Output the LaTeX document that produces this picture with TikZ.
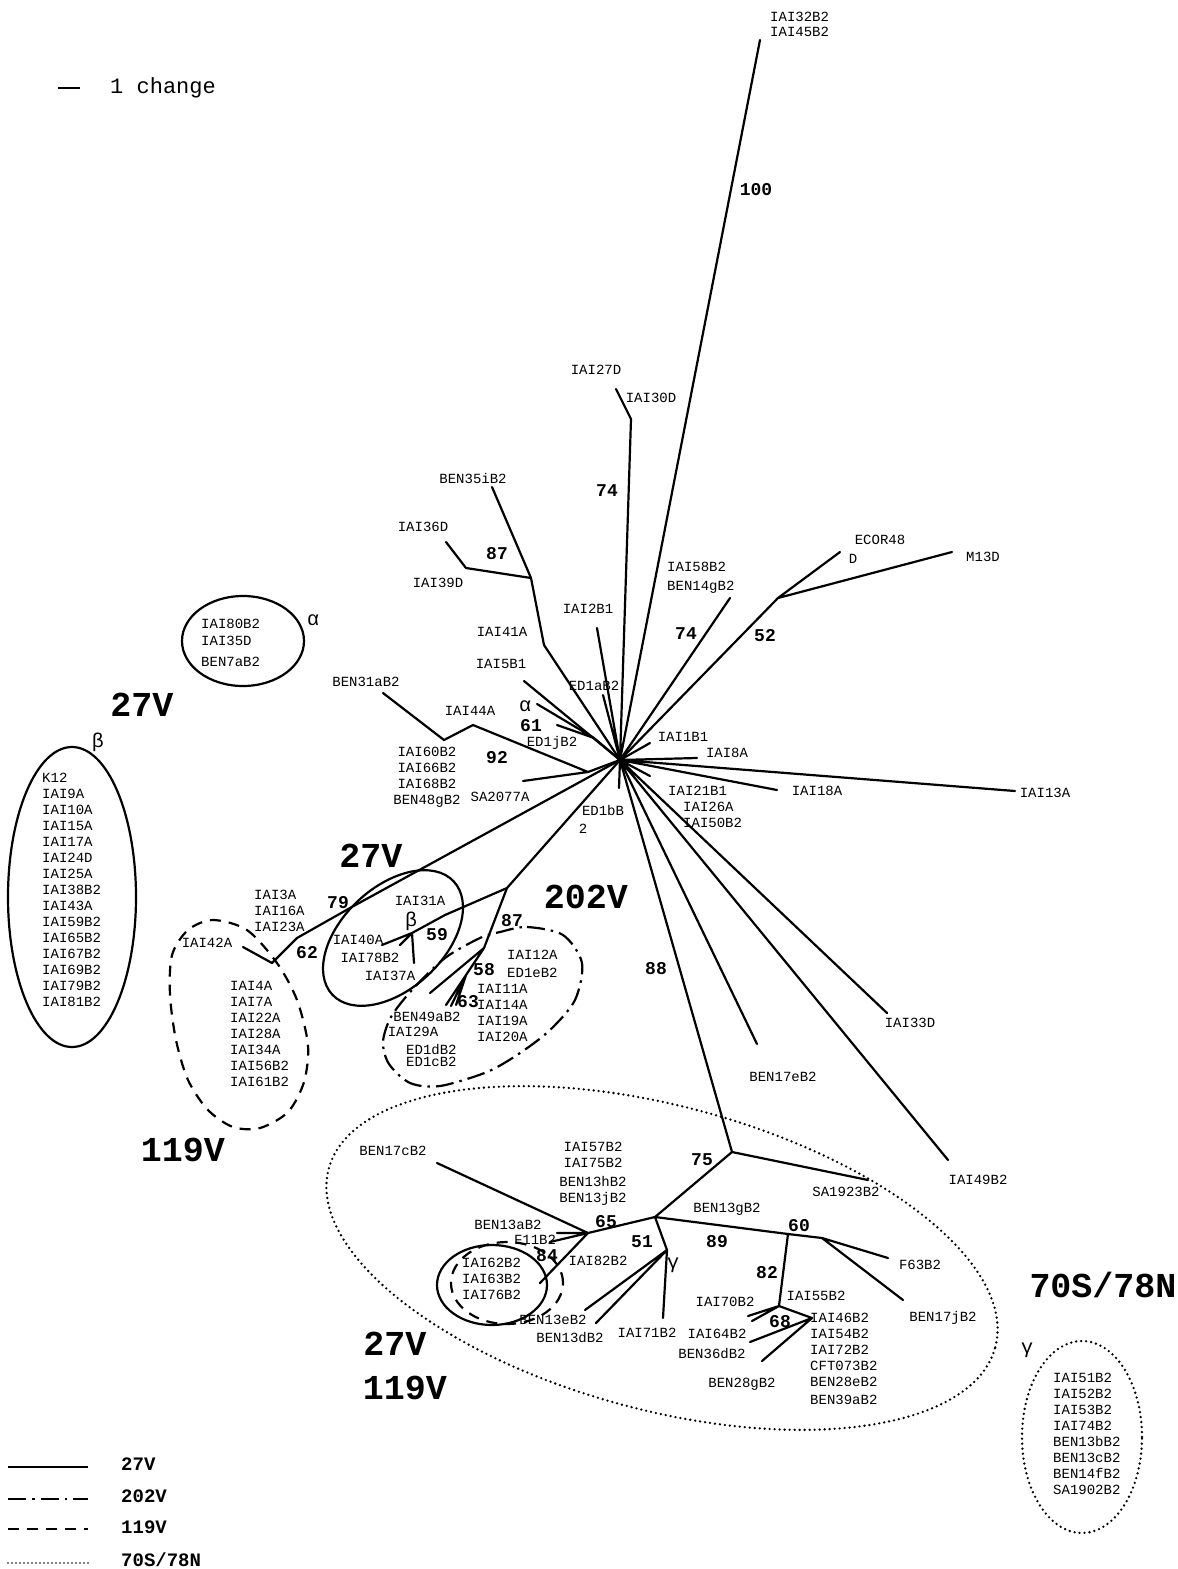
\documentclass[tikz,border=0pt]{standalone}
\usepackage{fontspec}
\setmonofont{Liberation Mono}
\usetikzlibrary{positioning}

\newcommand\leaffont{\ttfamily\fontsize{14}{16}\selectfont}
\newcommand\bootfont{\ttfamily\bfseries\fontsize{18}{20}\selectfont}
\newcommand\cladefont{\ttfamily\bfseries\fontsize{35}{40}\selectfont}
\newcommand\legfont{\ttfamily\bfseries\fontsize{19}{20}\selectfont}
\newcommand\greekfont{\ttfamily\fontsize{20}{20}\selectfont}

\tikzset{
  twig/.style={line width=2.2pt, line cap=round, line join=round},
  leaf/.style={font=\leaffont, inner sep=0pt},
  boot/.style={font=\bootfont, inner sep=0pt},
  clade/.style={font=\cladefont, inner sep=0pt},
  legtxt/.style={font=\legfont, inner sep=0pt, anchor=west},
  greek/.style={font=\greekfont, inner sep=0pt},
  v27/.style={line width=2.2pt},
  v202/.style={line width=2.2pt, dash pattern=on 18pt off 6pt on 2.5pt off 6pt},
  v119/.style={line width=2.2pt, dash pattern=on 11pt off 8pt},
  v70/.style={line width=2.6pt, line cap=round, dash pattern=on 0pt off 5pt},
}

\begin{document}
\begin{tikzpicture}[x=1pt,y=-1pt]
\path[fill=white,use as bounding box] (0,0) rectangle (1178,1569);

% scale
\coordinate (sc1) at (58,88);
\coordinate (sc2) at (80,88);
\draw[line width=1.6pt] (sc1) -- (sc2);
\node[font=\ttfamily\fontsize{22}{24}\selectfont, inner sep=0pt, anchor=west] (scale) at (110,88) {1 change};

% tree
\coordinate (hub) at (620,760);
\coordinate (t32) at (760,40);
\coordinate (k30) at (631,419);
\coordinate (t27) at (616,389);
\coordinate (k41) at (544,645);
\coordinate (n87u) at (531,578);
\coordinate (t35i) at (492,487);
\coordinate (k36) at (466,568);
\coordinate (t36) at (446,542);
\coordinate (t2b) at (597,628);
\coordinate (t1a) at (603,695);
\coordinate (t5b) at (524,681);
\coordinate (n61) at (594,738);
\coordinate (tal) at (537,704);
\coordinate (t61) at (557,725);
\coordinate (t31a) at (383,693);
\coordinate (k31a) at (444,740);
\coordinate (k44) at (473,725);
\coordinate (n92) at (588,772);
\coordinate (tsa) at (523,781);
\coordinate (t1b) at (619,788);
\coordinate (t1b1) at (650,743);
\coordinate (t8a) at (697,758);
\coordinate (t18a) at (777,790);
\coordinate (t13a) at (1015,791);
\coordinate (t21b) at (650,776);
\coordinate (t58) at (730,598);
\coordinate (n52) at (778,598);
\coordinate (tec) at (840,552);
\coordinate (tm13) at (952,552);
\coordinate (t33d) at (887,1013);
\coordinate (t49) at (948,1160);
\coordinate (t17e) at (757,1044);

\coordinate (n79) at (350,908);
\coordinate (k62) at (297,938);
\coordinate (n62) at (272,963);
\coordinate (t42) at (243,947);
\coordinate (n87l) at (507,888);
\coordinate (k59) at (445,915);
\coordinate (nbe) at (412,933);
\coordinate (t40) at (382,945);
\coordinate (t78) at (400,945);
\coordinate (t37) at (414,963);
\coordinate (n58) at (484,948);
\coordinate (t49a) at (430,993);
\coordinate (n63) at (466,975);
\coordinate (t63a) at (446,1005);
\coordinate (t63b) at (451,1006);
\coordinate (t63c) at (456,1005);

\coordinate (n75) at (732,1152);
\coordinate (tsa19) at (868,1180);
\coordinate (nj) at (655,1217);
\coordinate (n65) at (588,1233);
\coordinate (ngam) at (667,1250);
\coordinate (n82) at (788,1234);
\coordinate (n60) at (822,1238);
\coordinate (tf63) at (888,1258);
\coordinate (t17j) at (903,1300);
\coordinate (n68) at (779,1306);
\coordinate (t70a) at (748,1316);
\coordinate (t70b) at (752,1321);
\coordinate (n46) at (812,1318);
\coordinate (t64) at (750,1342);
\coordinate (t28g) at (762,1361);
\coordinate (t17c) at (437,1163);
\coordinate (t13ab) at (557,1233);
\coordinate (tf11) at (550,1242);
\coordinate (t82) at (540,1283);
\coordinate (t71) at (663,1318);
\coordinate (t13e) at (585,1310);
\coordinate (t13d) at (596,1323);

\draw[twig] (hub) -- (t32) (hub) -- (k30) -- (t27);
\draw[twig] (hub) -- (k41) -- (n87u) -- (t35i) (n87u) -- (k36) -- (t36);
\draw[twig] (hub) -- (t2b) (hub) -- (t1a) (hub) -- (t5b) (hub) -- (t1b)
  (hub) -- (t1b1) (hub) -- (t8a) (hub) -- (t18a) (hub) -- (t13a) (hub) -- (t21b)
  (hub) -- (t58) (hub) -- (t33d) (hub) -- (t49) (hub) -- (t17e);
\draw[twig] (hub) -- (n61) -- (tal) (n61) -- (t61);
\draw[twig] (hub) -- (n92) -- (k44) -- (k31a) -- (t31a) (n92) -- (tsa);
\draw[twig] (hub) -- (n52) -- (tec) (n52) -- (tm13);
\draw[twig] (hub) -- (n79) -- (k62) -- (n62) -- (t42);
\draw[twig] (hub) -- (n87l) -- (k59) -- (nbe) -- (t40) (nbe) -- (t78) (nbe) -- (t37);
\draw[twig] (n87l) -- (n58) -- (t49a) (n58) -- (n63) -- (t63a) (n63) -- (t63b) (n63) -- (t63c);
\draw[twig] (hub) -- (n75) -- (tsa19) (n75) -- (nj) -- (n65) (nj) -- (ngam) (nj) -- (n82) -- (n60);
\draw[twig] (n60) -- (tf63) (n60) -- (t17j);
\draw[twig] (n82) -- (n68) -- (t70a) (n68) -- (t70b) (n68) -- (n46) -- (t64) (n46) -- (t28g);
\draw[twig] (n65) -- (t17c) (n65) -- (t13ab) (n65) -- (tf11) (n65) -- (t82);
\draw[twig] (ngam) -- (t71) (ngam) -- (t13e) (ngam) -- (t13d);
\fill (hub) circle [radius=3pt];

% clade outlines
\draw[v27] (243,641) ellipse [x radius=61pt, y radius=45pt];
\draw[v27] (72,897) ellipse [x radius=64pt, y radius=150pt];
\draw[v27, rotate around={43:(393,938)}] (393,938) ellipse [x radius=83pt, y radius=51pt];
\draw[v27] (492,1285) ellipse [x radius=55pt, y radius=40pt];
\draw[v119] (507,1283) ellipse [x radius=56pt, y radius=41pt];
\draw[v119] plot[smooth cycle] coordinates {(213,920) (247,930) (277,963) (297,1000) (308,1045)
  (304,1082) (288,1112) (260,1128) (233,1127) (208,1110) (188,1080) (176,1040) (170,995) (172,955) (188,930)};
\draw[v202] plot[smooth cycle] coordinates {(500,932) (527,927) (563,935) (582,963) (575,1000)
  (550,1030) (520,1053) (487,1072) (440,1086) (410,1083) (389,1064) (383,1042) (391,1017) (412,990)
  (445,958) (480,938)};
\draw[v70, rotate around={-15:(662,1258)}] (662,1258) ellipse [x radius=345pt, y radius=152pt];
\draw[v70] (1082,1437) ellipse [x radius=60pt, y radius=96pt];

% leaves
\node[leaf, anchor=west, align=left] (l32) at (770,24) {IAI32B2\\[-1pt]IAI45B2};
\node[leaf] (l27) at (596,370) {IAI27D};
\node[leaf] (l30) at (651,398) {IAI30D};
\node[leaf] (l35i) at (473,478) {BEN35iB2};
\node[leaf] (l36) at (423,527) {IAI36D};
\node[leaf] (l39) at (438,583) {IAI39D};
\node[leaf] (l2b) at (588,609) {IAI2B1};
\node[leaf, anchor=west, align=left] (l58) at (667,578) {IAI58B2\\[3pt]BEN14gB2};
\node[leaf] (lec) at (880,540) {ECOR48};
\node[leaf] (lecd) at (853,559) {D};
\node[leaf] (lm13) at (983,557) {M13D};
\node[leaf] (l41) at (502,632) {IAI41A};
\node[leaf] (l5b) at (501,664) {IAI5B1};
\node[leaf] (l1a) at (594,686) {ED1aB2};
\node[leaf] (l1j) at (552,743) {ED1jB2};
\node[leaf] (l31a) at (366,682) {BEN31aB2};
\node[leaf] (l44) at (470,711) {IAI44A};
\node[leaf, align=center] (l60) at (427,777) {IAI60B2\\IAI66B2\\IAI68B2\\BEN48gB2};
\node[leaf] (lsa) at (500,797) {SA2077A};
\node[leaf] (l1b) at (603,810) {ED1bB};
\node[leaf] (l1b2) at (583,829) {2};
\node[leaf] (l1b1) at (683,737) {IAI1B1};
\node[leaf] (l8a) at (727,753) {IAI8A};
\node[leaf] (l18a) at (817,791) {IAI18A};
\node[leaf] (l13a) at (1045,793) {IAI13A};
\node[leaf, anchor=west] (l21b) at (668,791) {IAI21B1};
\node[leaf, anchor=west] (l26) at (683,807) {IAI26A};
\node[leaf, anchor=west] (l50) at (683,823) {IAI50B2};
\node[leaf] (l33d) at (910,1023) {IAI33D};
\node[leaf] (l17e) at (783,1077) {BEN17eB2};
\node[leaf] (l49) at (978,1180) {IAI49B2};

\node[leaf, anchor=west, align=left] (lalpha) at (201,643) {IAI80B2\\[1pt]IAI35D\\[5pt]BEN7aB2};
\node[leaf, anchor=west, align=left] (lbeta) at (42,890) {K12\\IAI9A\\IAI10A\\IAI15A\\IAI17A\\IAI24D\\IAI25A\\IAI38B2\\IAI43A\\IAI59B2\\IAI65B2\\IAI67B2\\IAI69B2\\IAI79B2\\IAI81B2};
\node[leaf, anchor=west, align=left] (l3a) at (254,911) {IAI3A\\IAI16A\\IAI23A};
\node[leaf] (l42) at (207,943) {IAI42A};
\node[leaf, anchor=west, align=left] (l4a) at (230,1034) {IAI4A\\IAI7A\\IAI22A\\IAI28A\\IAI34A\\IAI56B2\\IAI61B2};
\node[leaf] (l31) at (420,901) {IAI31A};
\node[leaf] (l40) at (358,940) {IAI40A};
\node[leaf] (l78) at (370,958) {IAI78B2};
\node[leaf] (l37) at (390,976) {IAI37A};
\node[leaf, anchor=west, align=left] (l12) at (507,964) {IAI12A\\[2pt]ED1eB2};
\node[leaf, anchor=west, align=left] (l11) at (477,1013) {IAI11A\\IAI14A\\IAI19A\\IAI20A};
\node[leaf] (l49a) at (427,1017) {BEN49aB2};
\node[leaf] (l29) at (413,1032) {IAI29A};
\node[leaf, anchor=west, align=left] (l1d) at (406,1055) {ED1dB2\\[-4pt]ED1cB2};

\node[leaf] (l17c) at (393,1151) {BEN17cB2};
\node[leaf, align=center] (l57) at (593,1174) {IAI57B2\\IAI75B2\\[3pt]BEN13hB2\\BEN13jB2};
\node[leaf] (lsa19) at (846,1192) {SA1923B2};
\node[leaf] (l13g) at (727,1209) {BEN13gB2};
\node[leaf] (l13ab) at (508,1225) {BEN13aB2};
\node[leaf] (lf11) at (535,1240) {F11B2};
\node[leaf] (l82b) at (598,1261) {IAI82B2};
\node[leaf, anchor=west, align=left] (l62) at (462,1279) {IAI62B2\\IAI63B2\\IAI76B2};
\node[leaf] (l13e) at (553,1320) {BEN13eB2};
\node[leaf] (l13d) at (570,1337) {BEN13dB2};
\node[leaf] (l71) at (647,1333) {IAI71B2};
\node[leaf] (lf63) at (920,1265) {F63B2};
\node[leaf] (l17j) at (943,1318) {BEN17jB2};
\node[leaf] (l70) at (725,1302) {IAI70B2};
\node[leaf] (l55) at (816,1296) {IAI55B2};
\node[leaf, anchor=west, align=left] (l46) at (810,1359) {IAI46B2\\IAI54B2\\IAI72B2\\CFT073B2\\BEN28eB2\\[2pt]BEN39aB2};
\node[leaf] (l64) at (717,1334) {IAI64B2};
\node[leaf] (l36d) at (712,1353) {BEN36dB2};
\node[leaf] (l28g) at (742,1384) {BEN28gB2};
\node[leaf, anchor=west, align=left] (lgamma) at (1053,1434) {IAI51B2\\IAI52B2\\IAI53B2\\IAI74B2\\BEN13bB2\\BEN13cB2\\BEN14fB2\\SA1902B2};

% bootstrap values
\node[boot] (b100) at (756,190) {100};
\node[boot] (b74a) at (607,491) {74};
\node[boot] (b87a) at (497,554) {87};
\node[boot] (b74b) at (686,634) {74};
\node[boot] (b52) at (765,636) {52};
\node[boot] (b61) at (531,726) {61};
\node[boot] (b92) at (497,758) {92};
\node[boot] (b88) at (656,969) {88};
\node[boot] (b79) at (338,903) {79};
\node[boot] (b62) at (307,953) {62};
\node[boot] (b59) at (437,935) {59};
\node[boot] (b87b) at (512,921) {87};
\node[boot] (b58) at (484,970) {58};
\node[boot] (b63) at (468,1002) {63};
\node[boot] (b75) at (702,1160) {75};
\node[boot] (b65) at (606,1222) {65};
\node[boot] (b51) at (642,1242) {51};
\node[boot] (b89) at (717,1242) {89};
\node[boot] (b60) at (799,1226) {60};
\node[boot] (b84) at (547,1256) {84};
\node[boot] (b82) at (767,1273) {82};
\node[boot] (b68) at (780,1322) {68};

\node[greek] (ga1) at (525,706) {α};
\node[greek] (ga2) at (313,620) {α};
\node[greek] (gb1) at (98,742) {β};
\node[greek] (gb2) at (411,921) {β};
\node[greek] (gg1) at (673,1265) {γ};
\node[greek] (gg2) at (1027,1350) {γ};

% clade labels
\node[clade] (c27a) at (142,705) {27V};
\node[clade] (c27b) at (371,856) {27V};
\node[clade] (c202) at (586,897) {202V};
\node[clade] (c119) at (183,1150) {119V};
\node[clade] (c27c) at (395,1344) {27V};
\node[clade] (c119b) at (405,1388) {119V};
\node[clade] (c70) at (1103,1285) {70S/78N};

% legend
\coordinate (ka1) at (8,1467);  \coordinate (ka2) at (88,1467);
\coordinate (kb1) at (8,1499);  \coordinate (kb2) at (88,1499);
\coordinate (kc1) at (8,1529);  \coordinate (kc2) at (88,1529);
\coordinate (kd1) at (8,1563);  \coordinate (kd2) at (88,1563);
\draw[v27] (ka1) -- (ka2);
\draw[v202] (kb1) -- (kb2);
\draw[v119] (kc1) -- (kc2);
\draw[line width=1.6pt, line cap=round, dash pattern=on 0pt off 4pt] (kd1) -- (kd2);
\node[legtxt] (k27) at (121,1464) {27V};
\node[legtxt] (k202) at (121,1496) {202V};
\node[legtxt] (k119) at (121,1527) {119V};
\node[legtxt] (k70) at (121,1560) {70S/78N};
\end{tikzpicture}
\end{document}
